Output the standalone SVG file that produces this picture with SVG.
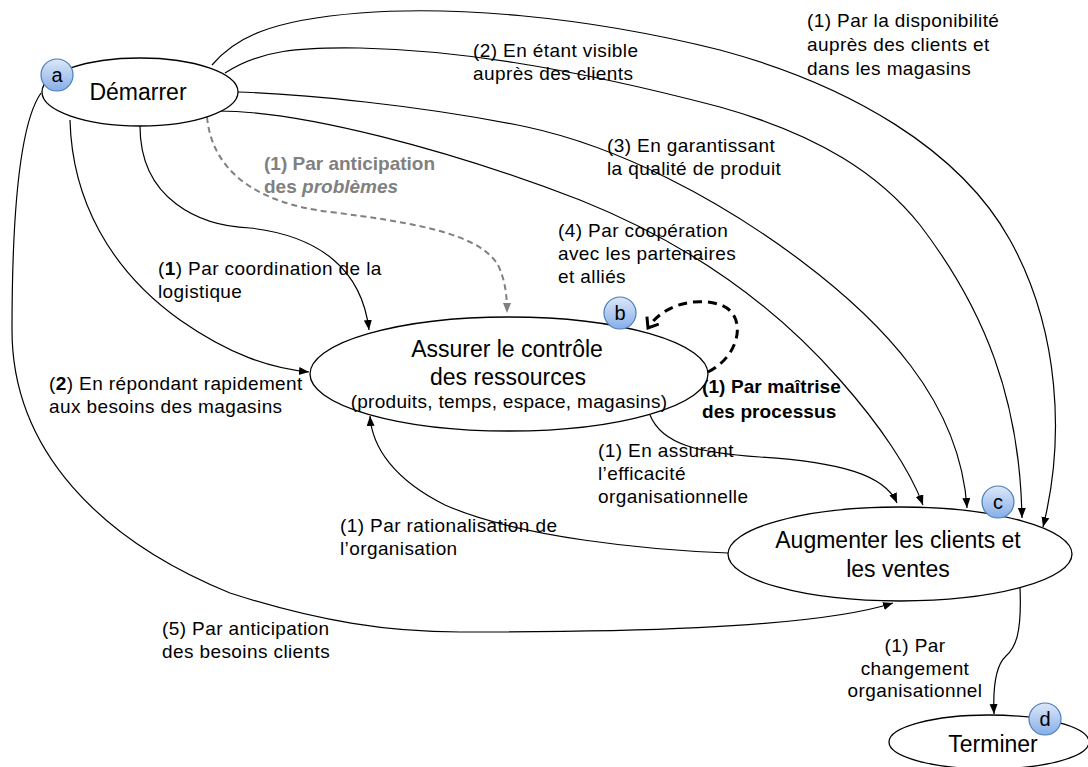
<svg xmlns="http://www.w3.org/2000/svg" width="1088" height="767" viewBox="0 0 1088 767">
<style>
.node{fill:#fff;stroke:#000;stroke-width:1.3}
.title{font-family:"Liberation Sans",Arial,sans-serif;font-size:23px;fill:#000;text-anchor:middle}
.sub{font-family:"Liberation Sans",Arial,sans-serif;font-size:19px;fill:#000;text-anchor:middle;letter-spacing:0.3px}
.edge{fill:none;stroke:#000;stroke-width:1.2}
.gray{fill:none;stroke:#808080;stroke-width:2;stroke-dasharray:6 4}
.loop{fill:none;stroke:#000;stroke-width:3;stroke-dasharray:9 6}
.lbl{font-family:"Liberation Sans",Arial,sans-serif;font-size:19px;fill:#000;letter-spacing:0.4px}
.bold{font-weight:bold;letter-spacing:0.1px}
.glbl{font-family:"Liberation Sans",Arial,sans-serif;font-size:19px;font-weight:bold;fill:#808080}
.badge{fill:url(#bg);stroke:#4a7ebb;stroke-width:1.2}
.btxt{font-family:"Liberation Sans",Arial,sans-serif;font-size:20px;fill:#000;text-anchor:middle}
</style>
<defs>
<linearGradient id="bg" x1="0" y1="0" x2="0" y2="1">
<stop offset="0" stop-color="#dde8f8"/>
<stop offset="1" stop-color="#86aee8"/>
</linearGradient>
<marker id="ah" markerUnits="userSpaceOnUse" markerWidth="12" markerHeight="10" refX="10" refY="4" orient="auto">
<path d="M0,0 L10,4 L0,8 z" fill="#000"/>
</marker>
<marker id="ahg" markerUnits="userSpaceOnUse" markerWidth="12" markerHeight="10" refX="10" refY="4" orient="auto">
<path d="M0,0 L10,4 L0,8 z" fill="#808080"/>
</marker>
<marker id="chev" markerUnits="userSpaceOnUse" markerWidth="16" markerHeight="18" refX="11" refY="8" orient="auto">
<path d="M2,1 L11,8 L2,15" fill="none" stroke="#000" stroke-width="3"/>
</marker>
</defs>
<rect width="1088" height="767" fill="#fff"/>

<g id="connectors">
<path class="edge" marker-end="url(#ah)" d="M212,65 C235,38 270,20 360,13 C450,6 580,15 720,50 C850,85 960,150 1010,240 C1060,330 1065,440 1043,527"/>
<path class="edge" marker-end="url(#ah)" d="M225,73 C260,50 300,47 360,48 C450,50 560,65 720,107 C820,135 880,175 920,225 C985,310 1020,400 1022,518"/>
<path class="edge" marker-end="url(#ah)" d="M237,92 C300,94 420,105 527,127 C620,147 720,200 800,260 C880,320 960,400 967,508"/>
<path class="edge" marker-end="url(#ah)" d="M215,111 C300,110 450,150 580,200 C680,240 770,300 840,380 C880,425 910,470 923,505"/>
<path class="gray" marker-end="url(#ahg)" d="M207,117 C212,170 255,203 330,212 C420,223 480,235 498,265 C506,282 507,298 507,313"/>
<path class="edge" marker-end="url(#ah)" d="M140,126 C140,200 200,226 250,228 C320,236 362,270 369,330"/>
<path class="edge" marker-end="url(#ah)" d="M70,120 C72,200 110,270 180,320 C230,355 270,368 309,372"/>
<path class="edge" marker-end="url(#ah)" d="M41,93 C22,120 12,200 12,330 C12,450 100,540 230,593 C320,622 390,632 460,632 C600,632 810,630 893,603"/>
<path class="edge" marker-end="url(#ah)" d="M728,553 C650,550 520,538 445,505 C395,480 372,448 370,416"/>
<path class="edge" marker-end="url(#ah)" d="M650,415 C662,445 700,453 760,457 C840,462 885,475 897,503"/>
<path class="edge" marker-end="url(#ah)" d="M1020,588 C1022,635 1015,648 1006,656 C995,666 993,690 994,714"/>
<path class="loop" marker-end="url(#chev)" d="M708,372 C742,355 748,312 718,304 C692,297 662,306 648,328"/>

<text class="lbl" x="807" y="27">(1) Par la disponibilité</text>
<text class="lbl" x="807" y="51">auprès des clients et</text>
<text class="lbl" x="807" y="75">dans les magasins</text>

<text class="lbl" x="473" y="57">(2) En étant visible</text>
<text class="lbl" x="473" y="80">auprès des clients</text>

<text class="lbl" x="607" y="152">(3) En garantissant</text>
<text class="lbl" x="607" y="175">la qualité de produit</text>

<text class="lbl" x="558" y="237">(4) Par coopération</text>
<text class="lbl" x="558" y="260">avec les partenaires</text>
<text class="lbl" x="558" y="283">et alliés</text>

<text class="glbl" x="264" y="170">(1) Par anticipation</text>
<text class="glbl" x="264" y="193">des <tspan font-style="italic">problèmes</tspan></text>

<text class="lbl" x="158" y="275">(<tspan font-weight="bold">1</tspan>) Par coordination de la</text>
<text class="lbl" x="158" y="298">logistique</text>

<text class="lbl" x="49" y="390">(<tspan font-weight="bold">2</tspan>) En répondant rapidement</text>
<text class="lbl" x="49" y="413">aux besoins des magasins</text>

<text class="lbl bold" x="702" y="393">(1) Par maîtrise</text>
<text class="lbl bold" x="702" y="418">des processus</text>

<text class="lbl" x="598" y="457">(1) En assurant</text>
<text class="lbl" x="598" y="480">l’efficacité</text>
<text class="lbl" x="598" y="503">organisationnelle</text>

<text class="lbl" x="340" y="532">(1) Par rationalisation de</text>
<text class="lbl" x="340" y="555">l’organisation</text>

<text class="lbl" x="162" y="635">(5) Par anticipation</text>
<text class="lbl" x="162" y="658">des besoins clients</text>

<text class="lbl" x="915" y="652" text-anchor="middle">(1) Par</text>
<text class="lbl" x="915" y="675" text-anchor="middle">changement</text>
<text class="lbl" x="915" y="697" text-anchor="middle">organisationnel</text>
</g>

<g id="node-a">
<ellipse class="node" cx="140" cy="92" rx="98" ry="34"/>
<text class="title" x="138" y="100">Démarrer</text>
<circle class="badge" cx="57" cy="75" r="16"/>
<text class="btxt" x="57" y="82">a</text>
</g>

<g id="node-b">
<ellipse class="node" cx="509" cy="374" rx="199" ry="57"/>
<text class="title" x="507" y="357">Assurer le contrôle</text>
<text class="title" x="508" y="385">des ressources</text>
<text class="sub" x="509" y="408">(produits, temps, espace, magasins)</text>
<circle class="badge" cx="620" cy="313" r="16"/>
<text class="btxt" x="620" y="320">b</text>
</g>

<g id="node-c">
<ellipse class="node" cx="900" cy="554" rx="172" ry="47"/>
<text class="title" x="898" y="548">Augmenter les clients et</text>
<text class="title" x="898" y="577">les ventes</text>
<circle class="badge" cx="998" cy="502" r="16"/>
<text class="btxt" x="998" y="509">c</text>
</g>

<g id="node-d">
<ellipse class="node" cx="989" cy="742" rx="100" ry="27"/>
<text class="title" x="993" y="752">Terminer</text>
<circle class="badge" cx="1045" cy="719" r="16"/>
<text class="btxt" x="1045" y="726">d</text>
</g>
</svg>
